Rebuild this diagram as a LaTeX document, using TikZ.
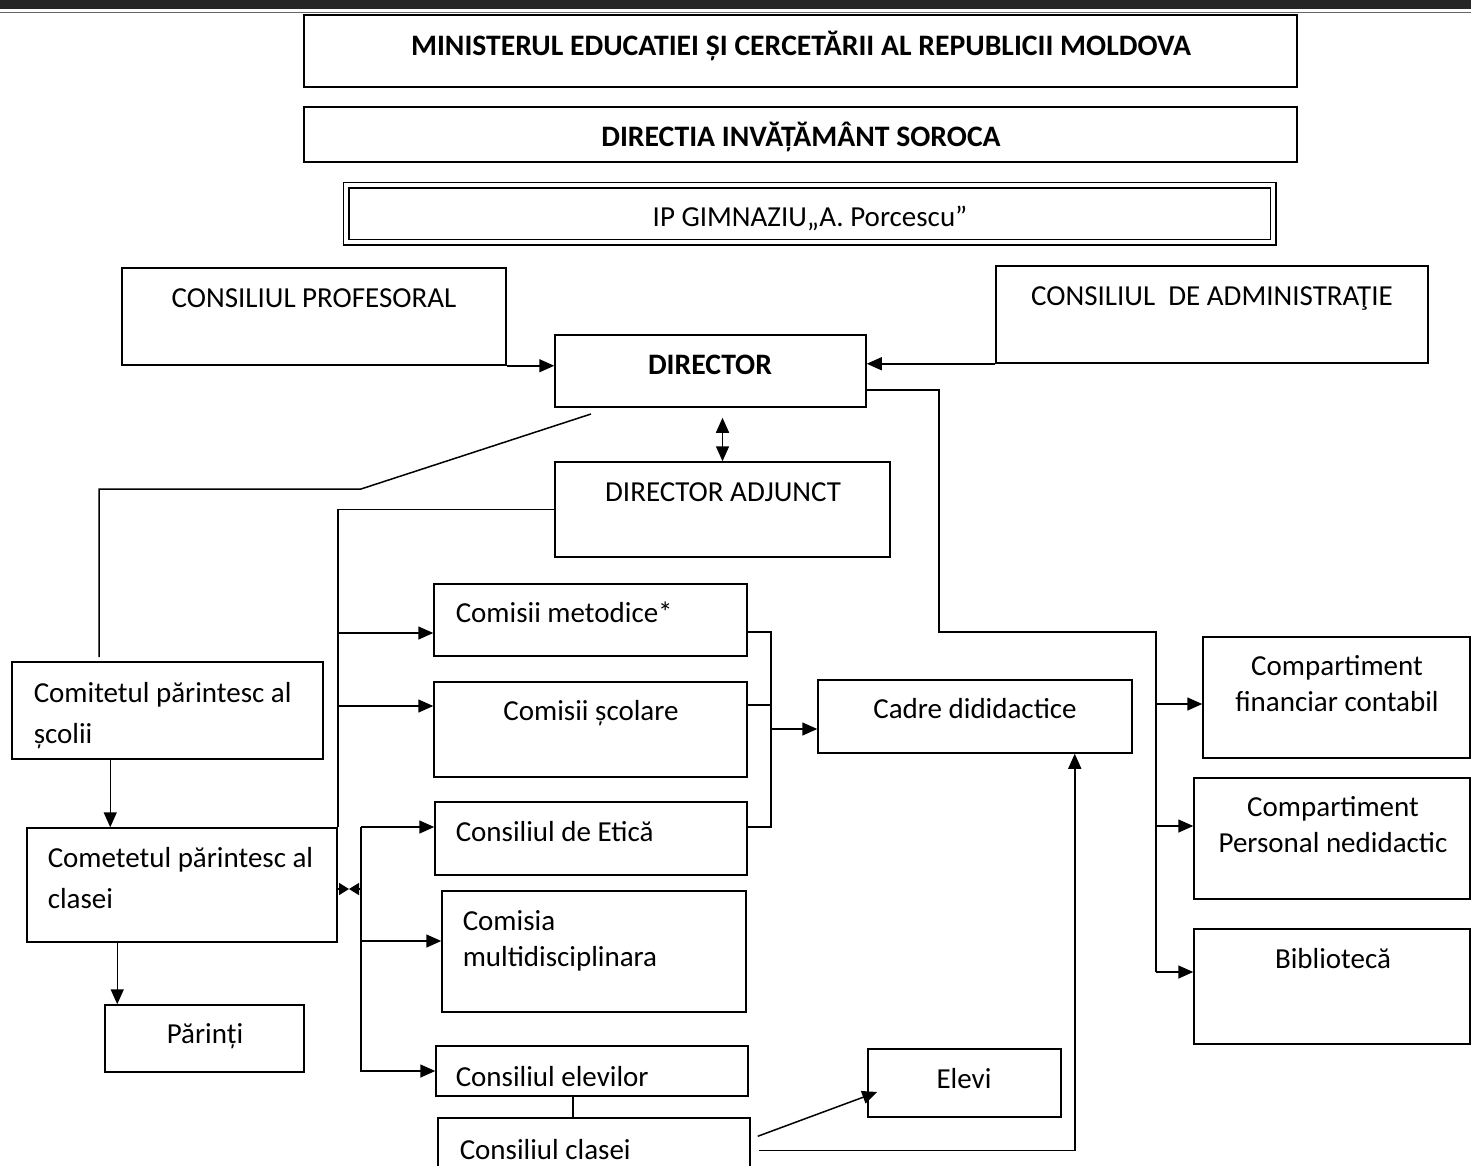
\documentclass[tikz,border=0pt]{standalone}
\usepackage{fontspec}
\setmainfont{Carlito}
\usetikzlibrary{arrows.meta,fit}
\newcommand\txtsize{\fontsize{29}{41}\selectfont}

\begin{document}
\begin{tikzpicture}[
    x=1pt, y=-1pt,
    line width=1.5pt,
    box/.style={draw, inner sep=0pt},
    frame/.style={draw, double, double distance=4pt, line width=1.5pt, inner sep=0pt},
    txt/.style={inner sep=0pt, font=\txtsize},
    head/.style={inner sep=0pt, font=\fontsize{29.7}{41}\selectfont\bfseries},
    lines/.style={txt, align=left},
    clines/.style={inner sep=0pt, align=center, font=\fontsize{29}{36}\selectfont},
    tip/.style={-{Triangle[length=15pt,width=13pt]}},
    tips/.style={{Triangle[length=15pt,width=13pt]}-{Triangle[length=15pt,width=13pt]}},
    small/.style={-{Triangle[length=10pt,width=12pt]}}
]
\useasboundingbox (0,0) rectangle (1471,1165);
% header band
\fill[black!85] (0,0) rectangle (1471,9);
\draw[black!60, line width=1pt] (0,12) -- (1471,12);

% boxes
\node[box, fit={(304,15) (1297,87)}] (min) {};
\node[box, fit={(304,107) (1297,162)}] (dirinv) {};
\node[frame, fit={(346,185) (1273,242)}] (ipg) {};
\node[box, fit={(122,268) (506,365)}] (prof) {};
\node[box, fit={(996,266) (1428,363)}] (adm) {};
\node[box, fit={(555,335) (866,407)}] (dir) {};
\node[box, fit={(555,462) (890,557)}] (adj) {};
\node[box, fit={(12,662) (323,759)}] (cpscoala) {};
\node[box, fit={(27,828) (337,942)}] (cpclasa) {};
\node[box, fit={(105,1005) (304,1072)}] (parinti) {};
\node[box, fit={(434,584) (747,656)}] (metod) {};
\node[box, fit={(434,682) (747,777)}] (scol) {};
\node[box, fit={(435,802) (747,875)}] (etica) {};
\node[box, fit={(442,891) (746,1012)}] (multi) {};
\node[box, fit={(436,1046) (748,1096)}] (elev) {};
\node[box, fit={(438,1118) (750,1185)}] (clasa) {};
\node[box, fit={(868,1049) (1061,1117)}] (elevi) {};
\node[box, fit={(818,680) (1132,753)}] (cadre) {};
\node[box, fit={(1203,637) (1470,758)}] (fin) {};
\node[box, fit={(1194,778) (1470,899)}] (pers) {};
\node[box, fit={(1194,929) (1470,1044)}] (bibl) {};

% texts
\node[head, anchor=base] (t-min) at (801,55) {MINISTERUL EDUCATIEI ȘI CERCETĂRII AL REPUBLICII MOLDOVA};
\node[head, anchor=base] (t-dirinv) at (801,146) {DIRECTIA INVĂȚĂMÂNT SOROCA};
\node[txt, anchor=base] (t-ipg) at (810,226) {IP GIMNAZIU„A. Porcescu”};
\node[txt, anchor=base] (t-prof) at (314,307) {CONSILIUL PROFESORAL};
\node[txt, anchor=base] (t-adm) at (1212,305) {CONSILIUL\ \ DE ADMINISTRAŢIE};
\node[head, anchor=base] (t-dir) at (710,374) {DIRECTOR};
\node[txt, anchor=base] (t-adj) at (723,501) {DIRECTOR ADJUNCT};
\node[lines, anchor=base west] (t-cpscoala) at (33,743) {Comitetul părintesc al\\școlii};
\node[lines, anchor=base west] (t-cpclasa) at (47,908) {Cometetul părintesc al\\clasei};
\node[txt, anchor=base] (t-parinti) at (205,1043) {Părinți};
\node[txt, anchor=base west] (t-metod) at (455,622) {Comisii metodice*};
\node[txt, anchor=base] (t-scol) at (591,720) {Comisii școlare};
\node[txt, anchor=base west] (t-etica) at (455,841) {Consiliul de Etică};
\node[clines, align=left, anchor=base west] (t-multi) at (462,966) {Comisia\\multidisciplinara};
\node[txt, anchor=base west] (t-elev) at (455,1086) {Consiliul elevilor};
\node[txt, anchor=base west] (t-clasa) at (459,1159) {Consiliul clasei};
\node[txt, anchor=base] (t-elevi) at (964,1088) {Elevi};
\node[txt, anchor=base] (t-cadre) at (975,718) {Cadre dididactice};
\node[clines, anchor=base] (t-fin) at (1337,711) {Compartiment\\financiar contabil};
\node[clines, anchor=base] (t-pers) at (1333,852) {Compartiment\\Personal nedidactic};
\node[txt, anchor=base] (t-bibl) at (1333,968) {Bibliotecă};

% director links
\draw[tip] (prof.south east) -- (prof.south east -| dir.west);
\draw[tip] (adm.south west) -- (adm.south west -| dir.east);
\draw[tips] ([yshift=-10pt]dir.south -| adj.north) -- (adj.north);
\coordinate (dg) at (591,414);
\coordinate (cp-top) at (99,657);
\draw (dg) -- (361,489) -- (99,489) -- (cp-top);

% right side
\draw ([yshift=18pt]dir.south east) -| (939,632) -| (1156,972);
\coordinate (rb1) at (1156,704);
\coordinate (rb2) at (1156,826);
\coordinate (rb3) at (1156,972);
\draw[tip] (rb1) -- (rb1 -| fin.west);
\draw[tip] (rb2) -- (rb2 -| pers.west);
\draw[tip] (rb3) -- (rb3 -| bibl.west);

% left side
\draw (adj.west) -| (cpclasa.north east);
\coordinate (lb1) at (337,633);
\coordinate (lb2) at (337,706);
\draw[tip] (lb1) -- (lb1 -| metod.west);
\draw[tip] (lb2) -- (lb2 -| scol.west);
\coordinate (mb1) at (361,827);
\coordinate (mb2) at (361,941);
\draw[tip] (mb1) -- (mb1 -| etica.west);
\draw[tip] (mb1) |- (elev.west);
\draw[tip] (mb2) -- (mb2 -| multi.west);
\coordinate (bt) at (349,889);
\draw[small] (bt -| cpclasa.east) -- (bt);
\draw[small] (bt -| mb1) -- (bt);
\draw[tip] ([xshift=99pt]cpscoala.south west) -- ([xshift=84pt]cpclasa.north west);
\draw[tip] ([xshift=91pt]cpclasa.south west) -- ([xshift=13pt]parinti.north west);

% commissions to teachers
\coordinate (kb1) at (771,632);
\coordinate (kb2) at (771,705);
\coordinate (kb3) at (771,827);
\coordinate (kb4) at (771,729);
\draw (kb1 -| metod.east) -- (kb1) -- (kb3) -- (kb3 -| etica.east);
\draw (kb2 -| scol.east) -- (kb2);
\draw[tip] (kb4) -- (kb4 -| cadre.west);

% pupils
\draw ([xshift=-19pt]elev.south) -- ([xshift=-19pt]elev.south |- clasa.north);
\draw[tip] ([xshift=7pt,yshift=-19pt]clasa.north east) -- ([xshift=10pt,yshift=-9pt]elevi.west);
\draw[tip] ([xshift=8pt,yshift=-33pt]clasa.north east) -| ([xshift=-58pt]cadre.south east);
\end{tikzpicture}
\end{document}
